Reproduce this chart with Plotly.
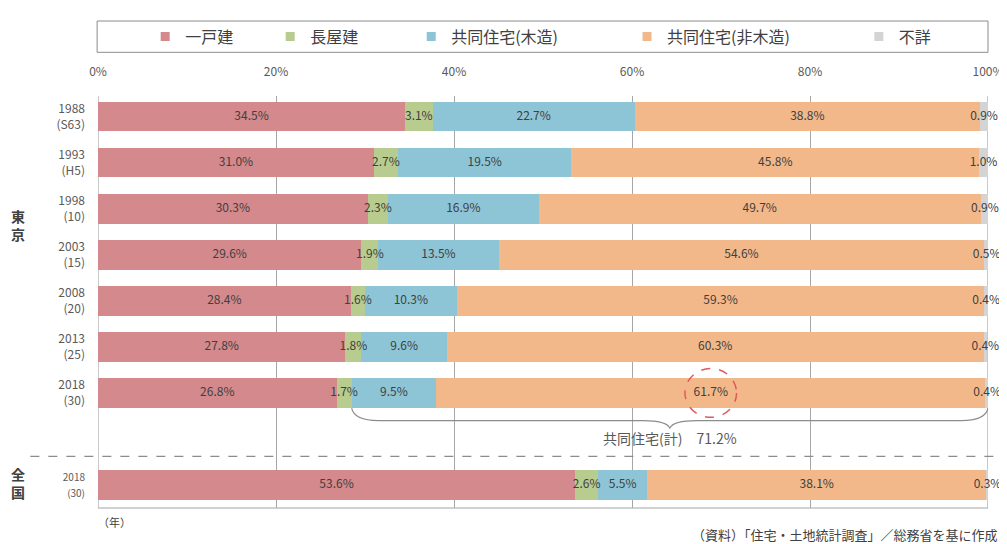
import plotly.graph_objects as go

# ── Data ──────────────────────────────────────────────────────────────────────
ROW_LABELS = ["1988<br>(S63)", "1993<br>(H5)", "1998<br>(10)", "2003<br>(15)",
              "2008<br>(20)", "2013<br>(25)", "2018<br>(30)",
              "<span style='font-size:10px'>2018<br>(30)</span>"]
ROW_POS = [0, 1, 2, 3, 4, 5, 6, 8]

SERIES = ["一戸建", "長屋建", "共同住宅(木造)", "共同住宅(非木造)", "不詳"]
DETACHED   = [34.5, 31.0, 30.3, 29.6, 28.4, 27.8, 26.8, 53.6]
ROWHOUSE   = [3.1, 2.7, 2.3, 1.9, 1.6, 1.8, 1.7, 2.6]
APT_WOOD   = [22.7, 19.5, 16.9, 13.5, 10.3, 9.6, 9.5, 5.5]
APT_NONWD  = [38.8, 45.8, 49.7, 54.6, 59.3, 60.3, 61.7, 38.1]
UNKNOWN    = [0.9, 1.0, 0.9, 0.5, 0.4, 0.4, 0.4, 0.3]
APT_TOTAL_2018 = "71.2%"

COLORS = ["#d4898c", "#b8cc8f", "#8ec5d6", "#f3b88a", "#d4d4d4"]
TEXT = "#404040"
MUTED = "#595959"
GRID = "#a6a6a6"
FONT = "Noto Sans CJK JP, Noto Sans, sans-serif"

# legend padding (ideographic / en spaces) so entries spread like the original
PAD = ["\u3000\u3000", "\u3000\u3000\u3000", "\u3000\u3000\u3000\u3000",
       "\u3000\u3000\u3000\u3000", ""]

values = [DETACHED, ROWHOUSE, APT_WOOD, APT_NONWD, UNKNOWN]

fig = go.Figure()
for name, pad, vals, col in zip(SERIES, PAD, values, COLORS):
    fig.add_trace(go.Bar(
        x=vals, y=ROW_POS, name=name, orientation="h", showlegend=False,
        marker=dict(color=col, line=dict(width=0)),
        width=0.64, hovertemplate=name + ": %{x}%<extra></extra>",
    ))
    # small square legend keys, like the original
    fig.add_trace(go.Scatter(
        x=[None], y=[None], mode="markers", name=name + pad,
        marker=dict(symbol="square", size=9, color=col),
    ))

# segment labels, centred on each segment
base = [0.0] * len(ROW_POS)
for vals in values:
    centers = [b + v / 2 for b, v in zip(base, vals)]
    fig.add_trace(go.Scatter(
        x=centers, y=ROW_POS, mode="text",
        text=[f"{v:.1f}%" for v in vals],
        textfont=dict(size=12, color=TEXT, family=FONT),
        showlegend=False, hoverinfo="skip", cliponaxis=False,
    ))
    base = [b + v for b, v in zip(base, vals)]

# brace over apartments (2018 Tokyo)
i18 = 6
bx0 = DETACHED[i18] + ROWHOUSE[i18]
bx1 = 100.0
bm = (bx0 + bx1) / 2
y_top, y_mid, y_tip = 6.33, 6.6, 6.76
brace = (f"M {bx0},{y_top} Q {bx0 + 0.3},{y_mid} {bx0 + 3},{y_mid} "
         f"L {bm - 3},{y_mid} Q {bm - 0.4},{y_mid} {bm},{y_tip} "
         f"Q {bm + 0.4},{y_mid} {bm + 3},{y_mid} "
         f"L {bx1 - 3},{y_mid} Q {bx1 - 0.3},{y_mid} {bx1},{y_top}")

apt_center = DETACHED[i18] + ROWHOUSE[i18] + APT_WOOD[i18] + APT_NONWD[i18] / 2

shapes = [
    # legend frame
    dict(type="rect", xref="paper", yref="paper", x0=-0.001, x1=1.0, y0=1.106, y1=1.182,
         line=dict(color="#8c8c8c", width=1)),
    # axes frame (left, right, bottom)
    dict(type="line", xref="x", yref="paper", x0=0, x1=0, y0=0, y1=1,
         line=dict(color=GRID, width=1.2), layer="below"),
    dict(type="line", xref="x", yref="paper", x0=100, x1=100, y0=0, y1=1,
         line=dict(color=GRID, width=1.2), layer="below"),
    dict(type="line", xref="paper", yref="paper", x0=0, x1=1, y0=0, y1=0,
         line=dict(color=GRID, width=1.2)),
    # separator between Tokyo and national
    dict(type="line", xref="paper", yref="y", x0=-0.076, x1=1.019, y0=7.38, y1=7.38,
         line=dict(color="#8c8c8c", width=1.2, dash="dash")),
    # brace
    dict(type="path", xref="x", yref="y", path=brace,
         line=dict(color="#8c8c8c", width=1.2)),
    # dashed circle around 61.7%
    dict(type="circle", xref="x", yref="y",
         x0=apt_center - 2.9, x1=apt_center + 2.9, y0=i18 - 0.53, y1=i18 + 0.53,
         line=dict(color="#e05a5a", width=1.5, dash="dash")),
]

annotations = [
    dict(text="<b>東<br>京</b>", xref="paper", yref="y", x=-0.09, y=2.36,
         showarrow=False, font=dict(size=14, color=TEXT), xanchor="center"),
    dict(text="<b>全<br>国</b>", xref="paper", yref="y", x=-0.09, y=7.95,
         showarrow=False, font=dict(size=14, color=TEXT), xanchor="center"),
    dict(text=f"共同住宅(計)　{APT_TOTAL_2018}", xref="x", yref="y", x=bm, y=6.98,
         showarrow=False, font=dict(size=14, color=MUTED)),
    dict(text="（年）", xref="paper", yref="paper", x=-0.002, y=-0.033,
         showarrow=False, font=dict(size=11, color=TEXT), yanchor="middle"),
    dict(text="（資料）「住宅・土地統計調査」／総務省を基に作成", xref="paper", yref="paper",
         x=1.0135, y=-0.064, showarrow=False, font=dict(size=13, color=TEXT),
         xanchor="right", yanchor="middle"),
]

# page body adds an 8px offset, so the figure is 8px smaller than the window
fig.update_layout(
    barmode="stack",
    width=999, height=536,
    margin=dict(l=90, r=19, t=77, b=36),
    plot_bgcolor="white", paper_bgcolor="white",
    font=dict(family=FONT, color=TEXT, size=12),
    xaxis=dict(range=[0, 100], side="top", dtick=20, ticksuffix="%",
               showgrid=True, gridcolor=GRID, gridwidth=1, zeroline=False,
               showline=False, ticks="", tickfont=dict(size=12, color=MUTED),
               fixedrange=True, automargin=False, ticklabelstandoff=17),
    yaxis=dict(range=[8.5, -0.45], tickvals=ROW_POS, ticktext=ROW_LABELS,
               showgrid=False, zeroline=False, showline=False, ticks="",
               tickfont=dict(size=12, color=MUTED), fixedrange=True,
               automargin=False, ticklabelstandoff=12),
    legend=dict(orientation="h", x=0.053, xanchor="left", y=1.144, yanchor="middle",
                font=dict(size=16, color=TEXT), traceorder="normal",
                bgcolor="rgba(0,0,0,0)", itemsizing="trace"),
    shapes=shapes,
    annotations=annotations,
    showlegend=True,
)

fig.write_html("out.html")
